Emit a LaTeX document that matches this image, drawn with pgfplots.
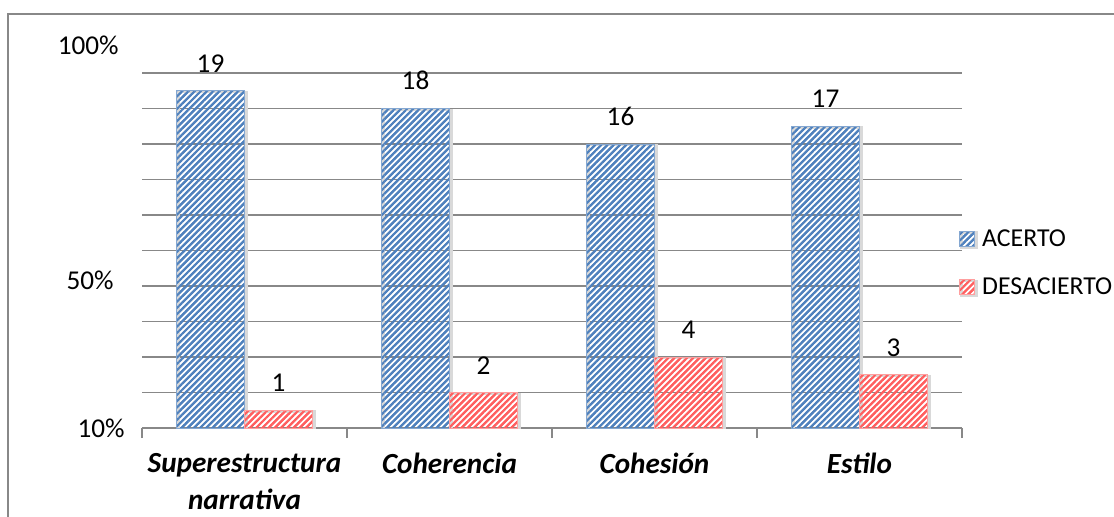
\documentclass[border=0pt]{standalone}
\usepackage{fontspec}
\setmainfont{Carlito}
\usepackage{pgfplots}
\pgfplotsset{compat=1.18}
\usetikzlibrary{patterns.meta}

\definecolor{acerto}{HTML}{4F81BD}
\definecolor{desacierto}{HTML}{FF5F5F}
\definecolor{gridgray}{HTML}{888888}

\newcommand{\lbl}{\fontsize{13.6pt}{16pt}\selectfont}

\begin{document}
\begin{tikzpicture}
  \path[use as bounding box] (0,0) rectangle (557pt,258pt);
  % chart frame (only top and left edges are visible)
  \draw[gridgray, line width=1pt] (3.75pt,-5pt) -- (3.75pt,251pt) -- (565pt,251pt);

  \begin{axis}[
      at={(71pt,44pt)}, anchor=south west,
      scale only axis,
      width=410pt, height=191.7pt,
      xmin=-0.5, xmax=3.5,
      ymin=0, ymax=21.6,
      ybar=0pt, bar width=34pt,
      axis x line*=bottom, axis y line*=left,
      y axis line style={draw=none},
      x axis line style={gridgray, line width=0.75pt},
      major tick length=0pt,
      xtick={0,1,2,3},
      xticklabels={{Superestructura\\narrativa}, Coherencia, Cohesión, Estilo},
      xticklabel style={align=center, anchor=north, inner sep=0pt, yshift=-12.5pt,
        font=\bfseries\itshape\fontsize{14.6pt}{18.3pt}\selectfont},
      extra x ticks={-0.5,0.5,1.5,2.5,3.5},
      extra x tick labels={,,,,},
      extra x tick style={major tick length=5pt, tick align=outside,
        tick style={gridgray, line width=0.75pt}},
      ytick={0,8.34,21.58},
      yticklabels={10\%, 50\%\hspace*{5.5pt}, 100\%\hspace*{3pt}},
      yticklabel style={anchor=east, inner sep=0pt, xshift=-8.5pt, font=\lbl},
      extra y ticks={2,4,6,8,10,12,14,16,18,20},
      extra y tick labels={,,,,,,,,,},
      extra y tick style={grid=major, major grid style={gridgray, line width=0.75pt}},
      /pgf/number format/assume math mode=true,
      nodes near coords,
      nodes near coords style={font=\lbl, text=black, inner sep=0pt,
        anchor=south, yshift=9pt},
      legend image code/.code={\draw[#1] (0pt,-4.5pt) rectangle (7.5pt,3pt);},
      legend cell align=left,
      legend style={at={(0.9963,0.5224)}, anchor=north west, draw=none, fill=none,
        inner sep=0pt, row sep=15pt, column sep=3.5pt,
        font=\fontsize{12.9pt}{15.5pt}\selectfont,
        nodes={inner sep=0pt, text height=9pt, text depth=0pt}},
    ]

    \addplot[draw=acerto!70!white, line width=0.4pt,
      preaction={draw=black!15, line width=1.2pt,
        transform canvas={xshift=0.9pt, yshift=-0.6pt}},
      pattern={Lines[angle=45,distance=2.2pt,line width=1.05pt]}, pattern color=acerto]
    coordinates {(0,19) (1,18) (2,16) (3,17)};

    \addplot[draw=desacierto!60!white, line width=0.4pt,
      preaction={draw=black!15, line width=1.2pt,
        transform canvas={xshift=0.9pt, yshift=-0.6pt}},
      pattern={Lines[angle=45,distance=2.2pt,line width=1.05pt]}, pattern color=desacierto]
    coordinates {(0,1) (1,2) (2,4) (3,3)};

    \legend{ACERTO, DESACIERTO}
  \end{axis}
\end{tikzpicture}
\end{document}
